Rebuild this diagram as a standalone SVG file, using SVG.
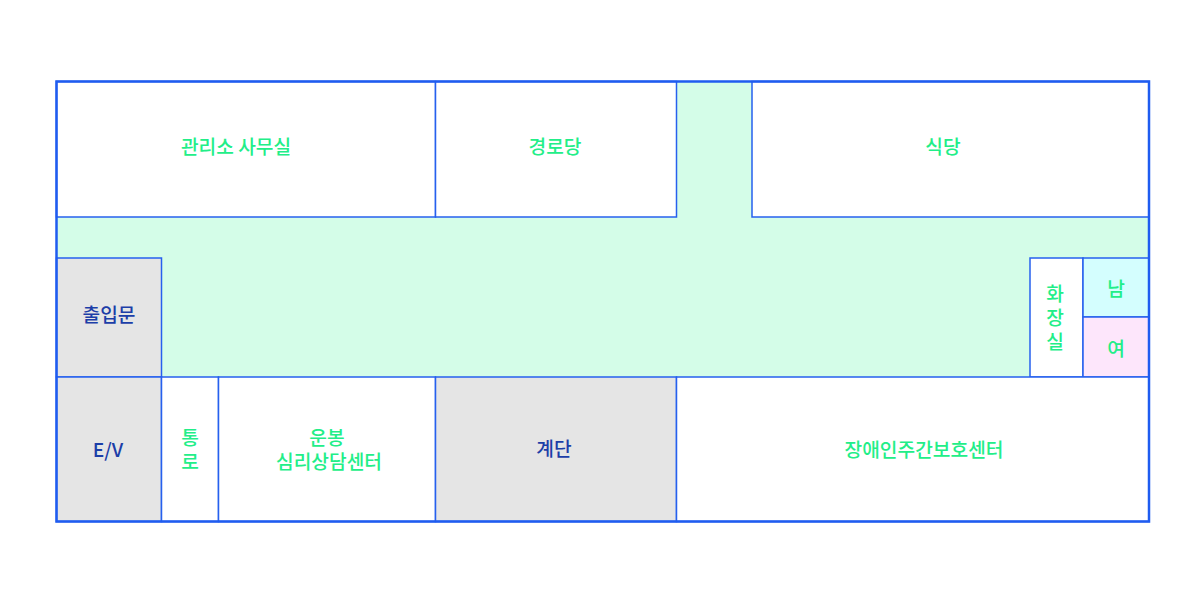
<svg xmlns="http://www.w3.org/2000/svg" width="1204" height="596" viewBox="0 0 1204 596">
<style>
.room{stroke:#2660ee;stroke-width:1.5;}
.w{fill:#ffffff;}
.g{fill:#e5e5e5;}
.t{font-family:"Noto Sans CJK KR","Noto Sans",sans-serif;font-size:19.2px;font-weight:500;text-anchor:middle;dominant-baseline:central;}
.gr{fill:#22ee88;}
.db{fill:#1c3ea8;}
</style>
<rect x="0" y="0" width="1204" height="596" fill="#ffffff"/>
<g id="corridor">
<rect x="56.5" y="81.5" width="1092.5" height="295.5" fill="#d4fde8"/>
</g>
<g id="office"><rect class="room w" x="56.5" y="81.5" width="379" height="135.5"/><text class="t gr" x="236" y="146">관리소 사무실</text></g>
<g id="senior"><rect class="room w" x="435.5" y="81.5" width="241" height="135.5"/><text class="t gr" x="555" y="146">경로당</text></g>
<g id="cafeteria"><rect class="room w" x="752" y="81.5" width="397" height="135.5"/><text class="t gr" x="943" y="146">식당</text></g>
<g id="entrance"><rect class="room g" x="56.5" y="258" width="105" height="119"/><text class="t db" x="109" y="314">출입문</text></g>
<g id="restroom"><rect class="room w" x="1030" y="258" width="53" height="119"/><text class="t gr" x="1055" y="293">화<tspan x="1055" dy="24">장</tspan><tspan x="1055" dy="24">실</tspan></text></g>
<g id="men"><rect class="room" fill="#d4fefe" x="1083" y="258" width="66" height="59"/><text class="t gr" x="1116" y="288">남</text></g>
<g id="women"><rect class="room" fill="#fde6fb" x="1083" y="317" width="66" height="60"/><text class="t gr" x="1116" y="348">여</text></g>
<g id="ev"><rect class="room g" x="56.5" y="377" width="105" height="144.5"/><text class="t db" x="108" y="449">E/V</text></g>
<g id="passage"><rect class="room w" x="161.5" y="377" width="57" height="144.5"/><text class="t gr" x="190" y="437">통<tspan x="190" dy="24">로</tspan></text></g>
<g id="counseling"><rect class="room w" x="218.5" y="377" width="217" height="144.5"/><text class="t gr" x="327" y="437">운봉<tspan x="329" dy="24">심리상담센터</tspan></text></g>
<g id="stairs"><rect class="room g" x="435.5" y="377" width="241" height="144.5"/><text class="t db" x="554" y="448">계단</text></g>
<g id="daycare"><rect class="room w" x="676.5" y="377" width="472.5" height="144.5"/><text class="t gr" x="924" y="449">장애인주간보호센터</text></g>
<g id="outline"><rect x="56.5" y="81.5" width="1092.5" height="440" fill="none" stroke="#1f5cf0" stroke-width="2.5"/></g>
</svg>
